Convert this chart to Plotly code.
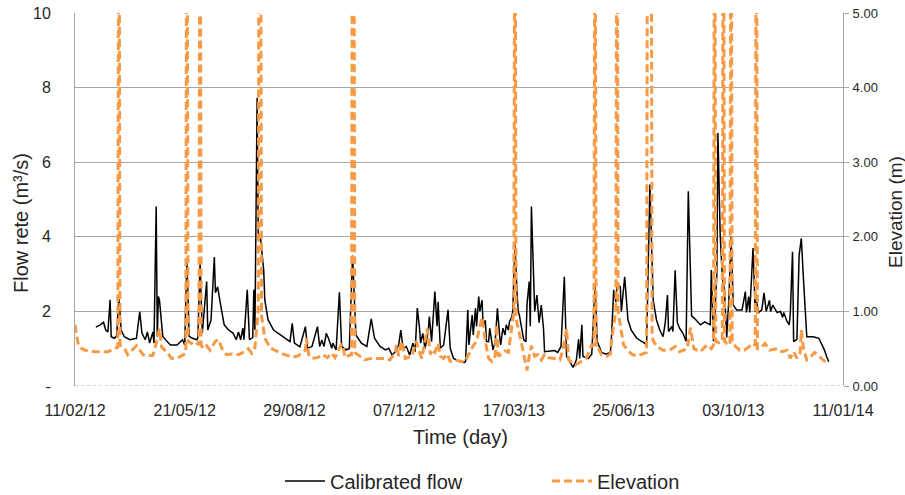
import pandas as pd
import plotly.graph_objects as go

START = pd.Timestamp("2012-02-11")

# Calibrated flow (m3/s), left axis: day offsets from 11/02/12 and values
flow_day = [19, 23, 26, 28, 30, 32, 33, 36, 38, 40, 42, 45, 50, 56, 59, 61, 64, 66, 68, 71, 72, 74, 75, 76, 77, 79, 80,
            84, 87, 93, 98, 100, 102, 104, 107, 111, 112, 114, 116, 120, 121, 124, 127, 128, 130, 133, 136, 140, 144,
            147, 149, 151, 153, 154, 157, 159, 162, 163, 164, 166, 167, 169, 172, 173, 176, 181, 190, 196, 198, 200,
            205, 210, 212, 216, 221, 223, 225, 227, 229, 231, 234, 235, 238, 241, 243, 247, 250, 253, 256, 261, 266,
            270, 273, 278, 283, 286, 289, 292, 295, 297, 299, 302, 305, 308, 310, 312, 314, 315, 317, 319, 321, 322,
            323, 325, 328, 330, 331, 333, 336, 340, 342, 345, 351, 355, 356, 358, 359, 362, 363, 365, 366, 368, 369,
            371, 372, 374, 375, 377, 378, 380, 381, 383, 385, 387, 388, 390, 392, 393, 395, 396, 398, 399, 401, 403,
            404, 405, 407, 409, 411, 412, 414, 415, 416, 418, 419, 421, 423, 425, 427, 428, 434, 437, 440, 443, 446,
            448, 451, 454, 457, 459, 460, 462, 463, 468, 471, 474, 476, 480, 484, 488, 489, 491, 493, 494, 497, 498,
            501, 503, 504, 507, 512, 519, 521, 524, 527, 530, 533, 536, 538, 540, 541, 544, 545, 547, 549, 551, 554,
            557, 559, 562, 565, 570, 574, 579, 580, 582, 585, 586, 588, 590, 592, 594, 596, 598, 600, 603, 608, 611,
            612, 614, 615, 618, 620, 621, 623, 626, 628, 630, 633, 634, 636, 640, 643, 645, 646, 649, 651, 652, 654,
            655, 658, 660, 662, 664, 665, 667, 670, 673, 678, 681, 683, 685, 687]
flow_val = [1.58, 1.64, 1.71, 1.50, 1.45, 2.31, 1.32, 1.28, 1.35, 2.40, 1.50, 1.32, 1.24, 1.28, 1.99, 1.42, 1.24, 1.45,
            1.15, 1.45, 1.15, 4.81, 1.33, 2.40, 2.30, 1.50, 1.33, 1.19, 1.10, 1.10, 1.24, 1.10, 3.40, 1.33, 1.28, 1.24,
            1.30, 3.30, 1.42, 2.80, 1.50, 1.77, 3.46, 2.50, 2.66, 2.13, 1.64, 1.50, 1.42, 1.24, 1.45, 1.24, 1.55, 1.24,
            2.58, 1.24, 1.30, 2.58, 1.50, 7.73, 4.10, 4.00, 3.10, 2.30, 1.77, 1.50, 1.32, 1.19, 1.68, 1.15, 1.05, 1.59,
            1.01, 1.06, 1.59, 1.06, 1.23, 1.06, 1.41, 1.28, 1.01, 1.15, 0.97, 2.51, 1.06, 0.97, 1.00, 3.50, 1.37, 1.15,
            1.06, 1.80, 1.28, 1.06, 0.97, 1.01, 0.83, 0.92, 1.10, 1.50, 1.01, 1.06, 0.83, 1.15, 0.92, 2.09, 1.55, 1.15,
            1.41, 1.01, 1.30, 1.50, 1.86, 1.19, 2.53, 1.60, 2.26, 1.01, 1.10, 2.04, 1.01, 0.74, 0.65, 0.63, 0.66, 2.04,
            1.10, 1.90, 1.37, 2.08, 1.60, 2.40, 2.00, 2.30, 1.60, 1.76, 1.20, 1.19, 1.55, 1.19, 0.97, 1.19, 2.08, 1.37,
            1.10, 1.55, 1.37, 1.64, 1.50, 1.73, 1.84, 2.00, 3.80, 2.44, 2.00, 1.90, 1.55, 1.24, 1.19, 2.20, 2.80, 1.60,
            4.81, 2.40, 2.00, 2.44, 1.70, 2.17, 1.55, 0.92, 0.95, 0.95, 0.90, 1.06, 2.93, 0.80, 0.65, 0.50, 0.70, 1.25,
            0.74, 1.64, 0.79, 0.74, 0.85, 2.70, 1.19, 0.90, 0.85, 0.90, 1.32, 2.58, 2.25, 2.70, 2.66, 2.00, 2.93, 2.30,
            1.77, 1.50, 1.28, 1.15, 1.10, 5.40, 2.30, 1.77, 1.50, 1.32, 1.70, 2.44, 1.46, 1.60, 1.46, 3.10, 1.70, 1.55,
            1.42, 1.20, 5.22, 1.88, 1.80, 1.64, 1.72, 1.64, 3.11, 1.20, 3.00, 6.78, 4.10, 2.93, 2.53, 1.30, 2.35, 4.00,
            2.17, 2.04, 2.04, 2.53, 1.97, 2.40, 1.97, 3.70, 2.00, 2.30, 1.97, 2.04, 2.50, 2.00, 2.30, 2.00, 2.17, 1.97,
            2.00, 1.84, 1.97, 1.73, 1.64, 1.97, 3.60, 1.19, 1.25, 3.50, 3.96, 2.85, 2.26, 1.32, 1.32, 1.32, 1.28, 1.10,
            0.97, 0.80, 0.65]

# Elevation (m), right axis
elev_day = [0, 3, 5, 9, 18, 30, 36, 39, 40, 41, 43, 46, 48, 56, 59, 62, 66, 71, 74, 77, 79, 84, 88, 94, 99, 101, 102,
            103, 106, 109, 113, 114, 115, 117, 120, 123, 128, 131, 134, 138, 143, 149, 155, 158, 161, 164, 167, 168,
            169, 170, 173, 178, 182, 191, 198, 203, 210, 211, 213, 216, 221, 226, 230, 234, 237, 242, 244, 246, 251,
            252, 253, 254, 255, 260, 264, 270, 276, 283, 287, 292, 293, 295, 298, 301, 307, 311, 313, 316, 319, 321,
            324, 325, 328, 331, 333, 336, 339, 342, 346, 351, 355, 358, 363, 366, 369, 371, 374, 377, 380, 383, 384,
            386, 389, 392, 395, 398, 400, 401, 402, 406, 409, 412, 414, 416, 419, 422, 425, 428, 431, 437, 442, 445,
            448, 450, 456, 462, 466, 469, 471, 473, 474, 475, 477, 480, 485, 488, 489, 491, 493, 494, 495, 497, 500,
            503, 507, 512, 516, 521, 522, 525, 526, 527, 530, 536, 542, 547, 551, 558, 561, 564, 570, 576, 580, 582,
            583, 584, 587, 590, 591, 592, 594, 597, 598, 599, 602, 606, 610, 614, 617, 620, 621, 622, 624, 629, 633,
            640, 644, 649, 652, 655, 658, 661, 662, 664, 667, 670, 674, 677, 681, 683, 685]
elev_val = [0.82, 0.55, 0.51, 0.48, 0.46, 0.46, 0.50, 0.52, 9.0, 0.55, 0.52, 0.48, 0.42, 0.54, 0.48, 0.42, 0.41, 0.41,
            0.57, 0.77, 0.52, 0.45, 0.37, 0.38, 0.42, 0.45, 9.0, 0.60, 0.57, 0.60, 0.55, 9.0, 0.55, 0.50, 0.54, 0.48,
            0.60, 0.62, 0.50, 0.42, 0.43, 0.42, 0.46, 0.50, 0.44, 0.52, 1.00, 9.0, 9.0, 0.95, 0.64, 0.51, 0.48, 0.42,
            0.39, 0.40, 0.48, 0.64, 0.42, 0.37, 0.38, 0.42, 0.38, 0.44, 0.38, 0.54, 0.56, 0.38, 0.42, 0.42, 9.0, 9.0,
            0.45, 0.39, 0.35, 0.37, 0.37, 0.37, 0.35, 0.45, 0.55, 0.40, 0.60, 0.37, 0.40, 0.60, 0.50, 0.37, 0.60, 0.77,
            0.42, 0.49, 0.45, 0.57, 0.40, 0.37, 0.43, 0.33, 0.35, 0.33, 0.32, 0.40, 0.54, 0.60, 0.82, 0.92, 0.60, 0.37,
            0.33, 0.40, 0.82, 0.40, 0.43, 0.47, 0.45, 0.77, 1.00, 9.0, 0.90, 0.64, 0.42, 0.21, 0.40, 0.54, 0.40, 0.42,
            0.35, 0.42, 0.38, 0.37, 0.35, 0.50, 0.77, 0.35, 0.28, 0.33, 0.37, 0.47, 0.55, 0.55, 9.0, 0.50, 0.50, 0.42,
            0.40, 0.43, 0.60, 0.82, 1.00, 9.0, 1.00, 0.82, 0.55, 0.50, 0.43, 0.40, 0.42, 0.45, 9.0, 9.0, 0.65, 0.61,
            0.53, 0.48, 0.48, 0.53, 0.46, 0.50, 0.78, 0.50, 0.46, 0.55, 0.50, 0.55, 9.0, 0.60, 0.58, 0.60, 9.0, 0.60,
            0.57, 0.55, 9.0, 0.60, 0.53, 0.48, 0.48, 0.52, 0.57, 0.55, 9.0, 0.50, 0.50, 0.57, 0.48, 0.50, 0.46, 0.48,
            0.37, 0.46, 0.37, 0.45, 0.75, 0.50, 0.35, 0.38, 0.45, 0.42, 0.36, 0.33, 0.31]

TICK_DAYS = [0, 100, 200, 300, 400, 500, 600, 700]
LEFT_TICKS = [0, 2, 4, 6, 8, 10]
LEFT_TEXT = ["-", "2", "4", "6", "8", "10"]
RIGHT_TICKS = [0, 1, 2, 3, 4, 5]

flow_x = [START + pd.Timedelta(days=d) for d in flow_day]
elev_x = [START + pd.Timedelta(days=d) for d in elev_day]
tick_x = [START + pd.Timedelta(days=d) for d in TICK_DAYS]

FONT = "Liberation Sans, Arial, sans-serif"
TXT = "#262626"
GRID = "#A6A6A6"
ORANGE = "#F79A45"

W, H = 905, 495
ML, MR, MT, MB = 75, 62, 13, 109
PW, PH = W - ML - MR, H - MT - MB

fig = go.Figure()
fig.add_trace(go.Scatter(x=flow_x, y=flow_val, name="Calibrated flow", mode="lines",
                         line=dict(color="#000000", width=1.5), yaxis="y"))
fig.add_trace(go.Scatter(x=elev_x, y=elev_val, name="Elevation", mode="lines",
                         line=dict(color=ORANGE, width=3, dash="8px,4px"), yaxis="y2"))

fig.update_layout(
    width=W, height=H,
    margin=dict(l=ML, r=MR, t=MT, b=MB, autoexpand=False),
    paper_bgcolor="white", plot_bgcolor="white",
    font=dict(family=FONT, color=TXT, size=16),
    showlegend=True,
    legend=dict(orientation="h", x=(280 - ML) / PW, xanchor="left", y=-0.255, yanchor="middle",
                font=dict(size=20, color=TXT), entrywidth=212, itemwidth=40),
    xaxis=dict(
        type="date", automargin=False,
        range=[tick_x[0], tick_x[-1]],
        tickvals=tick_x,
        ticktext=[t.strftime("%d/%m/%y") for t in tick_x],
        showgrid=False, zeroline=False, showline=False,
        ticks="", ticklabelstandoff=13,
        tickfont=dict(size=16, color=TXT),
    ),
    yaxis=dict(
        range=[0, 10], tickvals=LEFT_TICKS, ticktext=LEFT_TEXT, automargin=False,
        showgrid=True, gridcolor=GRID, gridwidth=1, zeroline=False,
        showline=True, linecolor=GRID, linewidth=1,
        ticks="", ticklabelstandoff=20,
        tickfont=dict(size=16, color=TXT),
    ),
    yaxis2=dict(
        range=[0, 5], tickvals=RIGHT_TICKS, tickformat=".2f", automargin=False,
        overlaying="y", side="right",
        showgrid=False, zeroline=False,
        showline=True, linecolor=GRID, linewidth=1,
        ticks="outside", ticklen=5, tickcolor=GRID,
        ticklabelstandoff=1,
        tickfont=dict(size=13, color=TXT),
    ),
)

# axis titles
fig.add_annotation(text="Time (day)", xref="paper", yref="paper", x=(460 - ML) / PW, y=-(437 - MT - PH) / PH,
                   showarrow=False, font=dict(size=20, color=TXT), xanchor="center", yanchor="middle")
fig.add_annotation(text="Flow rete (m³/s)", xref="paper", yref="paper", x=(21 - ML) / PW, y=1 - (223 - MT) / PH,
                   showarrow=False, textangle=-90, font=dict(size=20, color=TXT), xanchor="center", yanchor="middle")
fig.add_annotation(text="Elevation (m)", xref="paper", yref="paper", x=(895 - ML) / PW, y=1 - (212 - MT) / PH,
                   showarrow=False, textangle=-90, font=dict(size=19, color=TXT), xanchor="center", yanchor="middle")

# dotted horizontal axis line at zero
fig.add_shape(type="line", xref="paper", yref="y", x0=0, x1=1, y0=0, y1=0,
              line=dict(color="#A6A6A6", width=1, dash="dot"))

fig.write_html("out.html", config={"displayModeBar": False},
               post_script="document.body.style.margin='0px';")
